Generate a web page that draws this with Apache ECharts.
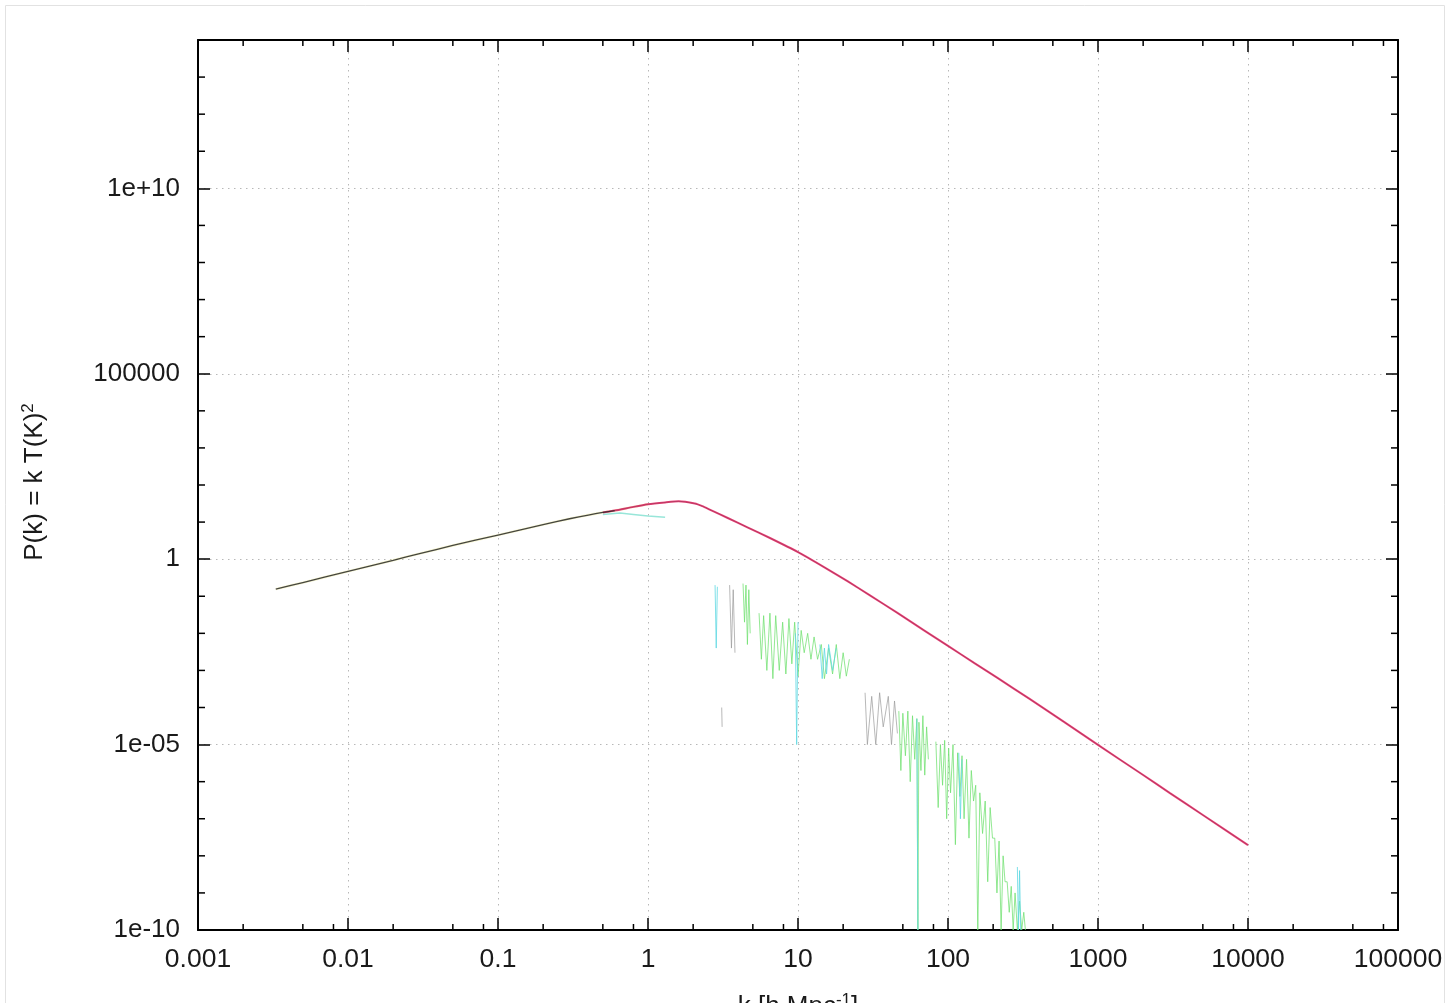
<!DOCTYPE html>
<html>
<head>
<meta charset="utf-8">
<script src="https://cdn.jsdelivr.net/npm/echarts@6/dist/echarts.min.js"></script>
<style>
  html, body { margin: 0; padding: 0; background: #fff; }
  #chart { width: 1449px; height: 1003px; }
</style>
</head>
<body>
<div id="chart"></div>
<script>
const FONT = '"Liberation Sans", Arial, Helvetica, sans-serif';

// Axis ticks and their labels
const xTickValues = [0.001, 0.01, 0.1, 1, 10, 100, 1000, 10000, 100000];
const xTickLabels = ['0.001', '0.01', '0.1', '1', '10', '100', '1000', '10000', '100000'];
const yTickValues = [1e-10, 1e-5, 1, 1e5, 1e10];
const yTickLabels = ['1e-10', '1e-05', '1', '100000', '1e+10'];
const xMinorTicks = [
  0.002, 0.005, 0.008, 0.02, 0.05, 0.08, 0.2, 0.5, 0.8, 2, 5, 8,
  20, 50, 80, 200, 500, 800, 2000, 5000, 8000, 20000, 50000, 80000
];
const yMinorTicks = [
  1e-9, 1e-8, 1e-7, 1e-6, 1e-4, 1e-3, 1e-2, 1e-1, 10, 100, 1000, 10000,
  1e6, 1e7, 1e8, 1e9, 1e11, 1e12, 1e13
];

// Main spectrum P(k) = k T(k)^2
const curveK = [0.0033, 0.005, 0.01, 0.02, 0.03, 0.05, 0.1, 0.2, 0.3, 0.4, 0.5, 0.6, 0.8, 1.0,
                1.3, 1.6, 2.05, 2.3, 2.6, 3.4, 4.6, 6.5, 10, 15, 21.5, 30, 46, 70, 100, 150, 215,
                350, 600, 1000, 2000, 3000, 5000, 10000];
const curveP = [0.155, 0.234, 0.468, 0.933, 1.41, 2.34, 4.47, 8.51, 12.3, 15.5, 18.2, 20.4, 25.7, 30.2,
                33.9, 36.3, 31.6, 26.9, 21.4, 12.9, 7.24, 3.72, 1.55, 0.603, 0.251, 0.107, 0.0355, 0.0117,
                4.57e-3, 1.58e-3, 6.17e-4, 1.7e-4, 3.98e-5, 9.8e-6, 1.51e-6, 5.0e-7, 1.26e-7, 1.95e-8];

// Short branch just below the turnover
const branchK = [0.5, 0.65, 0.8, 1.0, 1.3];
const branchP = [16, 17.5, 16, 14.5, 13.5];

// Sampled spectra (noisy), null splits separate runs
const greenK = [4.3, 4.4, 4.5, 4.6, 4.7, 4.8, null,
  5.5, 5.7, 5.9, 6.2, 6.5, 6.8, 7.1, 7.5, 7.9, 8.3, 8.7, 9.1, 9.5, 10, 10.5, 11, 11.6, 12.2,
  12.8, 13.5, 14.3, 15, 16, 17, 18, 19, 20, 21, 22, null,
  47, 48.5, 50, 52, 54, 56, 58, 60, 62, 63, 64, 66, 68, 70, 72, 74, null,
  83, 86, 89, 92, 95, 98, 101, 104, 108, 112, 116, 120, 124, 128, 133, 138, 143, 148, 153,
  158, 163, 170, 177, 184, 191, 198, 205, 212, 219, 226, 233, 240, 248, 256, 264, 272, 280,
  290, 300, 310, 320, 328];
const greenP = [0.22, 0.02, 0.2, 5e-3, 0.15, 0.01, null,
  0.035, 2e-3, 0.03, 1e-3, 0.035, 6e-4, 0.03, 1e-3, 0.02, 8e-4, 0.025, 1.5e-3, 0.02, 7e-4,
  0.012, 3e-3, 0.01, 2e-3, 8e-3, 2e-3, 5e-3, 6e-4, 4e-3, 8e-4, 5e-3, 6e-4, 3e-3, 7e-4, 2e-3, null,
  8e-5, 2e-6, 7e-5, 5e-6, 8e-5, 1e-6, 6e-5, 4e-6, 5e-5, 1e-10, 4e-5, 2e-6, 6e-5, 1.5e-6, 3e-5, 4e-6, null,
  1.2e-5, 2e-7, 1e-5, 8e-7, 1.3e-5, 1e-7, 8e-6, 5e-7, 1e-5, 2e-8, 6e-6, 4e-7, 5e-6, 1e-7, 4e-6,
  3e-8, 2e-6, 3e-7, 8e-7, 1e-10, 5e-7, 4e-8, 3e-7, 2e-9, 2e-7, 3e-8, 3e-8, 1e-9, 2.5e-8, 1e-10,
  1e-8, 2e-9, 2e-9, 3e-10, 1.5e-9, 1e-10, 1e-9, 1e-10, 6e-10, 1e-10, 3e-10, 1e-10];

const cyanK = [2.8, 2.85, 2.9, null, 9.6, 9.8, 10.0, null,
  14, 14.5, 15, 15.5, 16, 17, 18, null, 62, 63, null, 118, 121, 124, null,
  290, 295, 300, 305];
const cyanP = [0.2, 4e-3, 0.18, null, 0.01, 1e-5, 0.02, null,
  5e-3, 6e-4, 4e-3, 8e-4, 5e-3, 1e-3, 4e-3, null, 5e-5, 1e-10, null, 6e-6, 1e-7, 4e-6, null,
  5e-9, 1e-10, 4e-9, 1e-10];

const grayK = [3.1, 3.12, null, 3.5, 3.6, 3.7, 3.8, null,
  28, 29, 31, 33, 35, 37, 40, 42, 44, 46];
const grayP = [1e-4, 3e-5, null, 0.2, 4e-3, 0.15, 3e-3, null,
  2.5e-4, 1e-5, 2e-4, 1e-5, 2.5e-4, 3e-5, 2e-4, 1e-5, 1.5e-4, 2e-5];

function pairs(ks, ps) {
  return ks.map((k, i) => (k == null || ps[i] == null) ? ['-', '-'] : [k, ps[i]]);
}
function labelFor(values, labels) {
  return function (v) {
    const e = Math.round(Math.log10(v));
    const i = values.findIndex(t => Math.round(Math.log10(t)) === e);
    return i >= 0 ? labels[i] : '';
  };
}

const X_MIN = 0.001, X_MAX = 100000, Y_MIN = 1e-10, Y_MAX = 1e14;
const gridLine = { color: '#b8b8b8', width: 1, type: [1.5, 4.5] };
const frame = { show: true, onZero: false, lineStyle: { color: '#000', width: 2 } };

function xAxisDef(pos, showLabel) {
  return {
    type: 'log', logBase: 10, min: X_MIN, max: X_MAX, interval: 1, position: pos,
    axisLine: frame,
    axisTick: { show: true, inside: true, length: 12, lineStyle: { color: '#000', width: 1.5 } },
    axisLabel: {
      show: showLabel, margin: 16, color: '#1a1a1a', fontFamily: FONT, fontSize: 26.5,
      formatter: labelFor(xTickValues, xTickLabels)
    },
    splitLine: { show: showLabel, lineStyle: gridLine },
    name: showLabel ? 'k [h Mpc{sup|-1}]' : '',
    nameLocation: 'middle', nameGap: 62,
    nameTextStyle: {
      color: '#1a1a1a', fontFamily: FONT, fontSize: 26, lineHeight: 30,
      rich: { sup: { fontSize: 17, lineHeight: 30, verticalAlign: 'top', fontFamily: FONT, color: '#1a1a1a' } }
    }
  };
}
function yAxisDef(pos, showLabel) {
  return {
    type: 'log', logBase: 10, min: Y_MIN, max: Y_MAX, interval: 5, position: pos,
    axisLine: frame,
    axisTick: { show: true, inside: true, length: 12, lineStyle: { color: '#000', width: 1.5 } },
    axisLabel: {
      show: showLabel, margin: 18, color: '#1a1a1a', fontFamily: FONT, fontSize: 26,
      showMaxLabel: false, formatter: labelFor(yTickValues, yTickLabels)
    },
    splitLine: { show: showLabel, lineStyle: gridLine }
  };
}

const curveData = pairs(curveK, curveP);

const chart = echarts.init(document.getElementById('chart'), null, { renderer: 'canvas' });

chart.setOption({
  backgroundColor: '#ffffff',
  animation: false,
  grid: { left: 198, right: 51, top: 40, bottom: 73, containLabel: false, outerBoundsMode: 'none' },
  xAxis: [xAxisDef('bottom', true), xAxisDef('top', false)],
  yAxis: [yAxisDef('left', true), yAxisDef('right', false)],
  graphic: [
    {
      type: 'rect', silent: true, z: -1,
      shape: { x: 5.5, y: 5.5, width: 1439, height: 1010 },
      style: { fill: 'none', stroke: '#e2e2e2', lineWidth: 1 }
    },
    {
      type: 'text', silent: true, x: 35, y: 482, rotation: Math.PI / 2,
      style: {
        text: 'P(k) = k T(K){sup|2}', fill: '#1a1a1a', font: '26px ' + FONT,
        align: 'center', verticalAlign: 'middle', lineHeight: 30,
        rich: { sup: { fontSize: 17, lineHeight: 30, verticalAlign: 'top', fontFamily: FONT, fill: '#1a1a1a' } }
      }
    }
  ],
  series: [
    {
      type: 'line', name: 'yellow', symbol: 'none', silent: true, z: 3, smooth: 0.2,
      data: curveData.filter(d => d[0] <= 1),
      lineStyle: { color: '#dcd640', width: 2.4, opacity: 0.25 }
    },
    {
      type: 'line', name: 'red', symbol: 'none', silent: true, z: 4, smooth: 0.2,
      data: curveData.filter(d => d[0] >= 0.5),
      lineStyle: { color: '#e8366f', width: 2, opacity: 0.95 }
    },
    {
      type: 'line', name: 'branch', symbol: 'none', silent: true, z: 3,
      data: pairs(branchK, branchP),
      lineStyle: { color: '#7ee0d0', width: 1.5, opacity: 0.8 }
    },
    {
      type: 'line', name: 'green', symbol: 'none', silent: true, connectNulls: false, z: 2,
      data: pairs(greenK, greenP),
      lineStyle: { color: '#6fe06f', width: 1, opacity: 0.75 }
    },
    {
      type: 'line', name: 'cyan', symbol: 'none', silent: true, connectNulls: false, z: 2,
      data: pairs(cyanK, cyanP),
      lineStyle: { color: '#5fd8e2', width: 1, opacity: 0.8 }
    },
    {
      type: 'line', name: 'gray', symbol: 'none', silent: true, connectNulls: false, z: 2,
      data: pairs(grayK, grayP),
      lineStyle: { color: '#9a9a9a', width: 1, opacity: 0.7 }
    },
    {
      type: 'line', name: 'black', symbol: 'none', silent: true, z: 5, smooth: 0.2,
      data: curveData.filter(d => d[0] <= 0.6),
      lineStyle: { color: '#262626', width: 1.3, opacity: 0.85 }
    },
    {
      type: 'line', name: 'black-tail', symbol: 'none', silent: true, z: 5, smooth: 0.2,
      data: curveData.filter(d => d[0] >= 0.6),
      lineStyle: { color: '#262626', width: 0.8, opacity: 0.3 }
    },
    {
      // minor ticks along x (bottom and top frame)
      type: 'custom', silent: true, clip: false, z: 6,
      data: xMinorTicks.map(v => [v]),
      renderItem: function (params, api) {
        const cs = params.coordSys;
        const px = api.coord([api.value(0), Y_MIN])[0];
        const st = { stroke: '#000', lineWidth: 1.5 };
        return {
          type: 'group', children: [
            { type: 'line', shape: { x1: px, y1: cs.y + cs.height, x2: px, y2: cs.y + cs.height - 6 }, style: st },
            { type: 'line', shape: { x1: px, y1: cs.y, x2: px, y2: cs.y + 6 }, style: st }
          ]
        };
      }
    },
    {
      // minor ticks along y (left and right frame)
      type: 'custom', silent: true, clip: false, z: 6,
      data: yMinorTicks.map(v => [X_MIN, v]),
      renderItem: function (params, api) {
        const cs = params.coordSys;
        const py = api.coord([X_MIN, api.value(1)])[1];
        const st = { stroke: '#000', lineWidth: 1.5 };
        return {
          type: 'group', children: [
            { type: 'line', shape: { x1: cs.x, y1: py, x2: cs.x + 7, y2: py }, style: st },
            { type: 'line', shape: { x1: cs.x + cs.width, y1: py, x2: cs.x + cs.width - 7, y2: py }, style: st }
          ]
        };
      }
    }
  ]
});
</script>
</body>
</html>
